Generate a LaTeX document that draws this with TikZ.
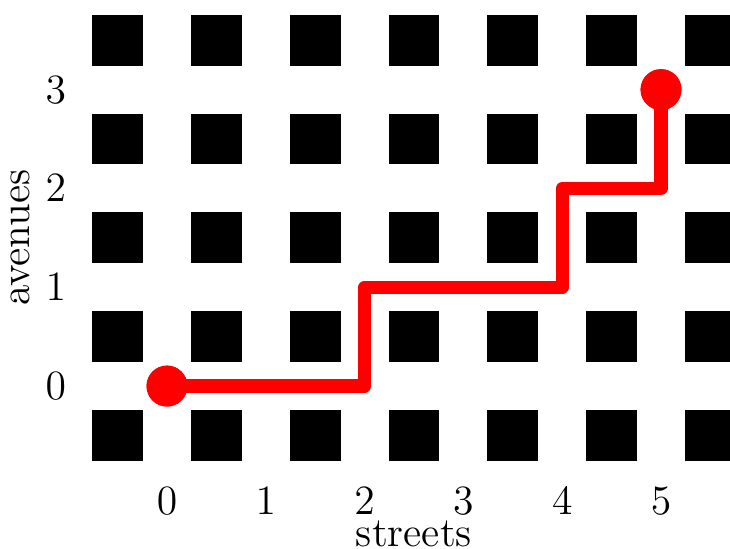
\documentclass[tikz,border=0pt]{standalone}
\begin{document}
\begin{tikzpicture}[x=1cm,y=1cm,
  block/.style={fill=black,draw=black,line width=0.4pt},
  route/.style={red,line width=3.8pt,line join=round},
  dot/.style={circle,fill=red,inner sep=0pt,minimum size=0.414cm},
  lbl/.style={font=\large,inner sep=0pt}]
\useasboundingbox (-1.690,-1.640) rectangle (5.698,3.907);
\begin{scope}
\clip (-1.690,-1.640) rectangle (5.698,3.907);
\foreach \i in {0,...,6}{
  \foreach \j in {0,...,4}{
    \fill[block] ({\i-0.75},{\j-0.75}) rectangle ({\i-0.25},{\j-0.25});
  }
}
\end{scope}
\coordinate (p1) at (2,0);
\coordinate (p2) at (2,1);
\coordinate (p3) at (4,1);
\coordinate (p4) at (4,2);
\coordinate (p5) at (5,2);
\node[dot] (start) at (0,0) {};
\node[dot] (goal) at (5,3) {};
\draw[route] (start.center) -- (p1) -- (p2) -- (p3) -- (p4) -- (p5) -- (goal.center);
\node[dot] at (0,0) {};
\node[dot] at (5,3) {};
\foreach \k in {0,...,5}{
  \node[lbl] (sx\k) at (\k,-1.165) {$\k$};
}
\foreach \k in {0,...,3}{
  \node[lbl] (ay\k) at (-1.125,\k) {$\k$};
}
\node[lbl,anchor=base] (streets) at (2.5,-1.626) {streets};
\node[lbl,anchor=base,rotate=90] (avenues) at (-1.395,1.5) {avenues};
\end{tikzpicture}
\end{document}
